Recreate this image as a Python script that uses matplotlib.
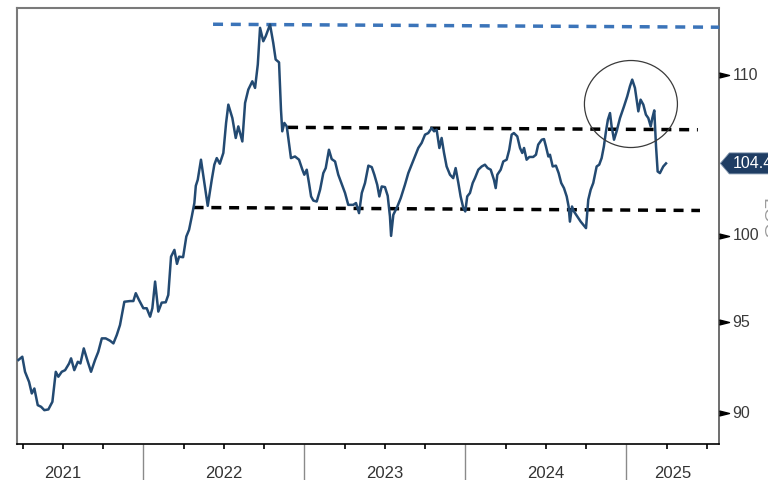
import matplotlib
matplotlib.use('Agg')
import matplotlib.pyplot as plt
from matplotlib.patches import Ellipse, Polygon
from matplotlib.transforms import blended_transform_factory, IdentityTransform
from matplotlib.ticker import NullLocator, FixedLocator

# ---------------- data (decimal years, index level) ----------------
t = [2021.224, 2021.248, 2021.265, 2021.290, 2021.307, 2021.323, 2021.344, 2021.365,
     2021.385, 2021.410, 2021.435, 2021.456, 2021.472, 2021.493, 2021.514, 2021.539,
     2021.551, 2021.571, 2021.593, 2021.609, 2021.630, 2021.655, 2021.675, 2021.700,
     2021.720, 2021.742, 2021.766, 2021.793, 2021.814, 2021.835, 2021.855, 2021.882,
     2021.917, 2021.938, 2021.953, 2021.973, 2022.000, 2022.021, 2022.042, 2022.056,
     2022.073, 2022.093, 2022.114, 2022.139, 2022.155, 2022.172, 2022.193, 2022.209,
     2022.222, 2022.247, 2022.267, 2022.284, 2022.301, 2022.317, 2022.326, 2022.338,
     2022.358, 2022.379, 2022.400, 2022.425, 2022.441, 2022.456, 2022.475, 2022.497,
     2022.514, 2022.528, 2022.553, 2022.574, 2022.590, 2022.615, 2022.632, 2022.652,
     2022.677, 2022.694, 2022.711, 2022.725, 2022.745, 2022.760, 2022.787, 2022.807,
     2022.822, 2022.843, 2022.855, 2022.863, 2022.876, 2022.891, 2022.917, 2022.942,
     2022.967, 2022.988, 2023.000, 2023.015, 2023.029, 2023.042, 2023.056, 2023.077,
     2023.098, 2023.118, 2023.133, 2023.153, 2023.170, 2023.191, 2023.211, 2023.253,
     2023.273, 2023.304, 2023.321, 2023.340, 2023.357, 2023.377, 2023.398, 2023.419,
     2023.435, 2023.453, 2023.466, 2023.481, 2023.501, 2023.518, 2023.532, 2023.539,
     2023.553, 2023.578, 2023.599, 2023.625, 2023.646, 2023.667, 2023.688, 2023.708,
     2023.729, 2023.750, 2023.770, 2023.791, 2023.806, 2023.822, 2023.839, 2023.853,
     2023.868, 2023.884, 2023.905, 2023.925, 2023.940, 2023.957, 2023.971, 2023.988,
     2024.000, 2024.012, 2024.029, 2024.046, 2024.060, 2024.081, 2024.102, 2024.122,
     2024.139, 2024.158, 2024.178, 2024.189, 2024.199, 2024.220, 2024.236, 2024.257,
     2024.273, 2024.288, 2024.302, 2024.323, 2024.340, 2024.354, 2024.365, 2024.381,
     2024.398, 2024.422, 2024.439, 2024.453, 2024.475, 2024.489, 2024.501, 2024.516,
     2024.526, 2024.543, 2024.563, 2024.580, 2024.596, 2024.613, 2024.630, 2024.642,
     2024.650, 2024.663, 2024.675, 2024.696, 2024.717, 2024.750, 2024.764, 2024.779,
     2024.795, 2024.816, 2024.832, 2024.847, 2024.861, 2024.874, 2024.886, 2024.899,
     2024.909, 2024.924, 2024.940, 2024.961, 2024.986, 2025.006, 2025.023, 2025.037,
     2025.054, 2025.075, 2025.089, 2025.106, 2025.122, 2025.137, 2025.152, 2025.162,
     2025.174, 2025.185, 2025.195, 2025.209, 2025.230, 2025.247]
v = [92.89, 93.07, 92.24, 91.69, 91.06, 91.33, 90.43, 90.34,
     90.16, 90.20, 90.61, 92.24, 91.97, 92.24, 92.33, 92.70,
     92.98, 92.33, 92.79, 92.70, 93.53, 92.79, 92.24, 92.89,
     93.34, 94.09, 94.09, 93.96, 93.81, 94.28, 94.84, 96.16,
     96.20, 96.20, 96.65, 96.26, 95.79, 95.79, 95.31, 95.79,
     97.32, 95.60, 96.11, 96.13, 96.55, 98.77, 99.17, 98.35,
     98.77, 98.74, 99.96, 100.36, 101.16, 101.97, 103.02, 103.39,
     104.63, 103.19, 101.80, 103.39, 104.32, 104.73, 104.38, 105.05,
     106.94, 108.11, 107.25, 105.99, 106.72, 105.77, 108.22, 109.08,
     109.62, 109.19, 110.72, 113.16, 112.26, 112.59, 113.38, 112.15,
     111.05, 110.86, 107.79, 106.41, 106.94, 106.72, 104.73, 104.83,
     104.63, 104.01, 103.70, 104.01, 103.19, 102.37, 102.12, 102.06,
     102.78, 103.80, 104.11, 105.25, 104.67, 104.52, 103.70, 102.58,
     101.86, 101.86, 101.97, 101.36, 102.58, 103.19, 104.26, 104.17,
     103.70, 103.08, 102.37, 102.98, 102.94, 102.41, 101.16, 100.00,
     101.26, 101.76, 102.27, 103.08, 103.80, 104.32, 104.83, 105.36,
     105.68, 106.20, 106.30, 106.62, 106.41, 106.51, 105.36, 105.99,
     105.05, 104.21, 103.70, 103.49, 104.11, 103.19, 102.37, 101.66,
     101.46, 102.37, 102.58, 103.19, 103.49, 104.01, 104.21, 104.32,
     104.11, 104.01, 103.39, 102.88, 103.70, 104.01, 104.52, 104.63,
     105.25, 106.20, 106.30, 106.09, 105.36, 105.05, 105.36, 104.63,
     104.80, 104.80, 104.94, 105.57, 105.88, 105.92, 105.46, 104.83,
     104.94, 104.21, 104.26, 103.80, 103.19, 102.88, 102.37, 101.76,
     100.85, 101.76, 101.46, 101.16, 100.85, 100.46, 102.17, 102.78,
     103.19, 104.21, 104.32, 104.73, 105.46, 106.41, 107.15, 107.57,
     106.72, 105.88, 106.41, 107.25, 108.00, 108.64, 109.30, 109.73,
     109.19, 107.68, 108.43, 108.11, 107.47, 107.25, 106.72, 107.25,
     107.74, 105.46, 103.90, 103.80, 104.21, 104.40]

# horizontal reference lines (start/end)
peak_t = [2022.433, 2025.578]
peak_v = [113.4, 113.2]
resist_t = [2022.899, 2025.445]
resist_v = [106.66, 106.51]
support_t = [2022.312, 2025.458]
support_v = [101.70, 101.52]
circle_center = (2025.029, 108.15)

year_ticks = [2022, 2023, 2024, 2025]
quarter_ticks = [2021.25, 2021.5, 2021.75, 2022.25, 2022.5, 2022.75,
                 2023.25, 2023.5, 2023.75, 2024.25, 2024.5, 2024.75,
                 2025.25, 2025.5]
year_labels = ['2021', '2022', '2023', '2024', '2025']
year_label_pos = [2021.5, 2022.5, 2023.5, 2024.5, 2025.289]
ytick_vals = [90, 95, 100, 110]
ytick_labels = ['90', '95', '100', '110']
last_label = '104.4'
last_value = 104.4

XMIN, XMAX = 2021.217, 2025.578
YMIN, YMAX = 88.35, 114.5

# ---------------- figure ----------------
plt.rcParams['font.family'] = ['Liberation Sans', 'DejaVu Sans']
plt.rcParams['lines.scale_dashes'] = False
W, H = 768, 480
fig = plt.figure(figsize=(W / 100, H / 100), dpi=100)
ax = fig.add_axes([17.3 / W, 35.7 / H, 702 / W, 436.3 / H])

line_col = '#234a72'
ax.plot(t, v, color=line_col, lw=1.8, solid_joinstyle='round', zorder=4)

ax.plot(peak_t, peak_v, color='#3b74b9', lw=2.5, dashes=(7.2, 5.6), zorder=3, clip_on=False)
ax.plot(resist_t, resist_v, color='black', lw=2.5, dashes=(7.2, 5.6), zorder=3)
ax.plot(support_t, support_v, color='black', lw=2.5, dashes=(7.2, 5.6), zorder=3)

ax.set_yscale('log')
ax.set_xlim(XMIN, XMAX)
ax.set_ylim(YMIN, YMAX)
ax.yaxis.set_major_locator(NullLocator())
ax.yaxis.set_minor_locator(NullLocator())
ax.xaxis.set_major_locator(FixedLocator(year_ticks))
ax.xaxis.set_minor_locator(FixedLocator(quarter_ticks))
ax.tick_params(axis='x', which='major', length=26, width=1.0, color='#8a8a8a',
               labelbottom=False)
ax.tick_params(axis='x', which='minor', length=3.5, width=1.2, color='black')
ax.tick_params(axis='y', which='both', left=False, right=False,
               labelleft=False, labelright=False)

for side in ['left', 'top']:
    ax.spines[side].set_color('#7a7a7a')
    ax.spines[side].set_linewidth(1.5)
ax.spines['right'].set_color('#555555')
ax.spines['right'].set_linewidth(1.2)
ax.spines['bottom'].set_color('black')
ax.spines['bottom'].set_linewidth(1.2)

# year labels
btrans = blended_transform_factory(ax.transData, fig.transFigure)
for pos, lab in zip(year_label_pos, year_labels):
    ax.text(pos, 0.004, lab, transform=btrans, ha='center', va='baseline',
            fontsize=12, color='#333333', clip_on=False)

# right axis tick markers and labels
rtrans = blended_transform_factory(ax.transAxes, ax.transData)
tri = [(0, -1), (4, 0), (0, 1)]
ax.plot([1.0] * len(ytick_vals), ytick_vals, transform=rtrans, ls='none',
        marker=tri, ms=14.4, color='black', clip_on=False, zorder=5)
for val, lab in zip(ytick_vals, ytick_labels):
    ax.text(1.0 + 13 / 702, val, lab, transform=rtrans, ha='left', va='center',
            fontsize=11.5, color='#3a3a3a', clip_on=False)

# circle around the recent peak
fig.canvas.draw()
cdisp = ax.transData.transform(circle_center)
cax = ax.transAxes.inverted().transform(cdisp)
ell = Ellipse(cax, width=93 / 702, height=87 / 436.3, transform=ax.transAxes,
              fill=False, ec='#3a3a3a', lw=0.9, zorder=6)
ax.add_patch(ell)

# last value tag (runs off the right edge as in the source)
xr, yd = ax.transData.transform((XMAX, last_value))
tag = Polygon([(xr + 1, yd), (xr + 10, yd + 10.5), (xr + 70, yd + 10.5),
               (xr + 70, yd - 10.5), (xr + 10, yd - 10.5)], closed=True,
              transform=IdentityTransform(), fc='#1f3d63', ec='#7f94ad', lw=0.6)
fig.add_artist(tag)
fig.text((xr + 13.5) / W, yd / H, last_label, ha='left', va='center',
         fontsize=11.5, color='white')

# cut-off LOG label at the edge
fig.text(767 / W, (480 - 219) / H, 'LOG', rotation=270,
         ha='center', va='center', fontsize=14, color='#9c9c9c')

fig.savefig('out.png', dpi=100)
